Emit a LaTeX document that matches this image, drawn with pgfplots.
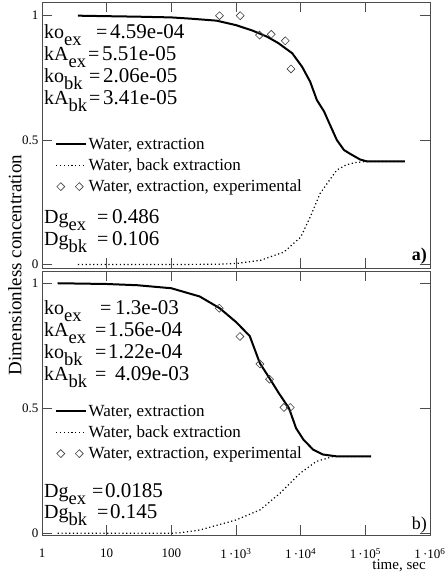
\documentclass[border=0pt]{standalone}
\usepackage{fontspec}
\setmainfont{Liberation Serif}
\usepackage{pgfplots}
\pgfplotsset{compat=1.18}
\newcommand\ann[6]{%
 \node[anchor=base west, inner sep=0pt, font=\fontsize{20}{24}\selectfont] at (44pt,#1pt) {#2\raisebox{-7pt}{\fontsize{18.5}{22}\selectfont #3}};
 \node[anchor=base west, inner sep=0pt, font=\fontsize{20}{24}\selectfont] at (#4pt,#1pt) {=};
 \node[anchor=base west, inner sep=0pt, font=\fontsize{21}{24}\selectfont] at (#5pt,#1pt) {#6};
}
\begin{document}
\begin{tikzpicture}
\useasboundingbox (0pt,0pt) rectangle (444pt,577pt);
% ---------- panel a ----------
\begin{axis}[xmode=log, scale only axis, width=388pt, xmin=1, xmax=1e6,
  xtick={1,10,100,1000,10000,100000,1000000},
  ytick={0,0.5,1}, yticklabels={0,0.5,1},
  tick align=inside, major tick length=0pt, minor tick length=0pt,
  axis line style={black!70, line width=0.8pt},
  tick label style={font=\fontsize{13}{15}\selectfont},
  anchor=south west,
  legend cell align=left,
  legend style={draw=none, fill=none, anchor=west, at={(0.034,0.385)},
    font=\fontsize{17}{20}\selectfont, inner sep=0pt, row sep=5pt,
    nodes={inner sep=1.5pt}},
  at={(42pt,309pt)}, height=266pt, ymin=-0.014, ymax=1.055, xticklabels={}]
\addplot[black, line width=2pt,
   legend image code/.code={\draw[black, line width=1.8pt] (0pt,0pt) -- (30pt,0pt);}] coordinates {
(3.6,1.0) (10,0.998) (30,0.996) (100,0.993) (200,0.988) (500,0.98) (1000,0.962)
(1800,0.94) (3000,0.916) (4500,0.89) (7400,0.849) (10500,0.795) (14000,0.735)
(17800,0.661) (23000,0.615) (28000,0.565) (36300,0.5) (46800,0.46) (58900,0.444)
(83000,0.422) (107000,0.414) (200000,0.414) (407000,0.414)};
\addlegendentry{Water, extraction}
\addplot[black, line width=1.2pt, dash pattern=on 1.2pt off 2.6pt,
   legend image code/.code={\draw[black, line width=1.2pt, dash pattern=on 1.2pt off 2.6pt] (0pt,0pt) -- (30pt,0pt);}] coordinates {
(3.6,0) (100,0) (500,0.001) (1000,0.004) (2400,0.017) (5500,0.05) (10000,0.11)
(14000,0.19) (20000,0.286) (36000,0.379) (50000,0.4) (70000,0.41) (110000,0.414) (407000,0.414)};
\addlegendentry{Water, back extraction}
\addplot[only marks, mark=square, mark size=2.8pt,
   mark options={rotate=45, black!75, line width=0.6pt, fill=white},
   legend image code/.code={\draw[only marks, mark=square, mark size=2.8pt, mark options={rotate=45, black!75, line width=0.6pt, fill=white}] plot coordinates {(4.5pt,0pt) (23pt,0pt)};}] coordinates {
(556,1.0) (1161,1.0) (2312,0.922) (3508,0.925) (5780,0.899) (7080,0.786)};
\addlegendentry{Water, extraction, experimental}
\pgfplotsinvokeforeach{10,100,1000,10000,100000}{
  \draw[black!70, line width=0.8pt] (axis cs:#1,-0.014) -- ++(0pt,10pt);
  \draw[black!70, line width=0.8pt] (axis cs:#1,1.055) -- ++(0pt,-10pt);
}
\pgfplotsinvokeforeach{0,0.5,1}{
  \draw[black!70, line width=0.8pt] (axis cs:1,#1) -- ++(10pt,0pt);
  \draw[black!70, line width=0.8pt] (axis cs:1000000,#1) -- ++(-10pt,0pt);
}
\end{axis}
% ---------- panel b ----------
\begin{axis}[xmode=log, scale only axis, width=388pt, xmin=1, xmax=1e6,
  xtick={1,10,100,1000,10000,100000,1000000},
  ytick={0,0.5,1}, yticklabels={0,0.5,1},
  tick align=inside, major tick length=0pt, minor tick length=0pt,
  axis line style={black!70, line width=0.8pt},
  tick label style={font=\fontsize{13}{15}\selectfont},
  anchor=south west,
  legend cell align=left,
  legend style={draw=none, fill=none, anchor=west, at={(0.034,0.388)},
    font=\fontsize{17}{20}\selectfont, inner sep=0pt, row sep=5pt,
    nodes={inner sep=1.5pt}},
  at={(42pt,42pt)}, height=264pt, ymin=-0.007, ymax=1.049,
  xticklabels={1,10,100,1\,·10\textsuperscript{3},1\,·10\textsuperscript{4},1\,·10\textsuperscript{5},1\,·10\textsuperscript{6}},
  xticklabel style={yshift=-10pt}]
\addplot[black, line width=2pt,
   legend image code/.code={\draw[black, line width=1.8pt] (0pt,0pt) -- (30pt,0pt);}] coordinates {
(1.75,1.0) (10,0.997) (30,0.992) (100,0.98) (275,0.947) (560,0.9) (1000,0.845)
(1630,0.789) (2340,0.68) (3300,0.62) (4600,0.56) (6600,0.5) (8500,0.42)
(11000,0.375) (15500,0.335) (22000,0.315) (35000,0.308) (60000,0.307) (123000,0.307)};
\addlegendentry{Water, extraction}
\addplot[black, line width=1.2pt, dash pattern=on 1.2pt off 2.6pt,
   legend image code/.code={\draw[black, line width=1.2pt, dash pattern=on 1.2pt off 2.6pt] (0pt,0pt) -- (30pt,0pt);}] coordinates {
(1.75,0) (100,0) (135,0.002) (275,0.013) (1000,0.053) (2340,0.093) (4800,0.16)
(9800,0.24) (17400,0.287) (31600,0.307) (123000,0.307)};
\addlegendentry{Water, back extraction}
\addplot[only marks, mark=square, mark size=2.8pt,
   mark options={rotate=45, black!75, line width=0.6pt, fill=white},
   legend image code/.code={\draw[only marks, mark=square, mark size=2.8pt, mark options={rotate=45, black!75, line width=0.6pt, fill=white}] plot coordinates {(4.5pt,0pt) (23pt,0pt)};}] coordinates {
(550,0.9) (1150,0.787) (2340,0.677) (3300,0.616) (5500,0.503) (6900,0.503)};
\addlegendentry{Water, extraction, experimental}
\pgfplotsinvokeforeach{10,100,1000,10000,100000}{
  \draw[black!70, line width=0.8pt] (axis cs:#1,-0.007) -- ++(0pt,10pt);
  \draw[black!70, line width=0.8pt] (axis cs:#1,1.049) -- ++(0pt,-10pt);
}
\pgfplotsinvokeforeach{0,0.5,1}{
  \draw[black!70, line width=0.8pt] (axis cs:1,#1) -- ++(10pt,0pt);
  \draw[black!70, line width=0.8pt] (axis cs:1000000,#1) -- ++(-10pt,0pt);
}
\end{axis}
% ---------- annotations ----------
\ann{538}{ko}{ex}{96}{110}{4.59e-04}
\ann{516}{kA}{ex}{88}{102}{5.51e-05}
\ann{494}{ko}{bk}{89}{103}{2.06e-05}
\ann{472}{kA}{bk}{89}{103}{3.41e-05}
\ann{353}{Dg}{ex}{97}{112}{0.486}
\ann{331}{Dg}{bk}{97}{112}{0.106}
\ann{262}{ko}{ex}{100}{115}{1.3e-03}
\ann{240}{kA}{ex}{95}{108}{1.56e-04}
\ann{218}{ko}{bk}{95}{108}{1.22e-04}
\ann{196}{kA}{bk}{95}{115}{4.09e-03}
\ann{79}{Dg}{ex}{92}{105}{0.0185}
\ann{58}{Dg}{bk}{97}{110}{0.145}
\node[anchor=east, inner sep=0pt, font=\bfseries\fontsize{18}{20}\selectfont] at (427pt,321pt) {a)};
\node[anchor=east, inner sep=0pt, font=\fontsize{18}{20}\selectfont] at (427pt,52pt) {b)};
\node[rotate=90, inner sep=0pt, font=\fontsize{19}{22}\selectfont] at (15pt,312pt) {Dimensionless concentration};
\node[inner sep=0pt, font=\fontsize{15}{18}\selectfont] at (399pt,11pt) {time, sec};
\end{tikzpicture}
\end{document}
